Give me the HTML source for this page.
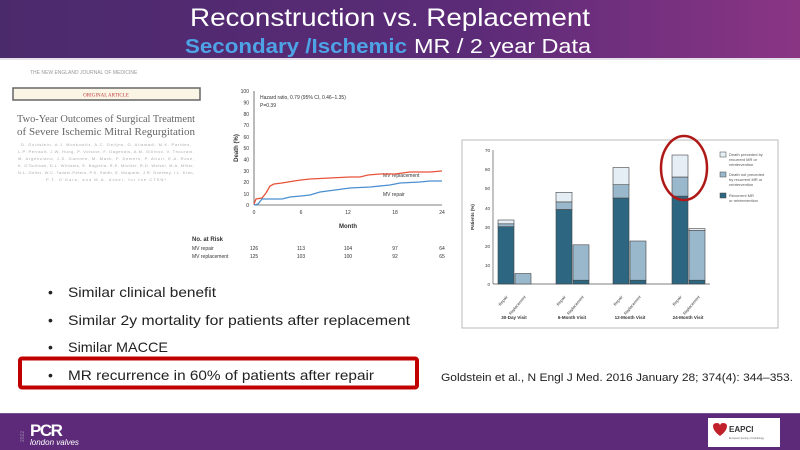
<!DOCTYPE html>
<html><head><meta charset="utf-8"><style>
html,body{margin:0;padding:0;background:#fff}
svg{display:block}
</style></head><body>
<svg width="800" height="450" viewBox="0 0 800 450" xmlns="http://www.w3.org/2000/svg" font-family="Liberation Sans, sans-serif">
<defs>
<linearGradient id="hg" x1="0" x2="1" y1="0" y2="0">
<stop offset="0" stop-color="#4b2a6c"/><stop offset="0.6" stop-color="#5c2b78"/><stop offset="1" stop-color="#8a3584"/>
</linearGradient>
</defs>
<rect x="0" y="0" width="800" height="58" fill="url(#hg)"/>
<rect x="0" y="58" width="800" height="2" fill="#e6e0ea"/>
<text x="390" y="26" text-anchor="middle" font-size="25" fill="#fff" textLength="400" lengthAdjust="spacingAndGlyphs">Reconstruction  vs. Replacement</text>
<text x="185" y="53" font-size="20" font-weight="bold" fill="#4da3e6" textLength="222" lengthAdjust="spacingAndGlyphs">Secondary  /Ischemic</text>
<text x="414" y="53" font-size="20" fill="#fff" textLength="177" lengthAdjust="spacingAndGlyphs">MR / 2 year Data</text>

<!-- article -->
<text x="30" y="74" font-size="5" fill="#999">THE NEW ENGLAND JOURNAL OF MEDICINE</text>
<rect x="13" y="88" width="187" height="12" fill="#fbf5e6" stroke="#666" stroke-width="1.5"/>
<text x="106" y="96.5" text-anchor="middle" font-size="5" fill="#c04040" font-family="Liberation Serif, serif">ORIGINAL ARTICLE</text>
<text x="106" y="122" text-anchor="middle" font-size="10.5" fill="#666" font-family="Liberation Serif, serif" textLength="178" lengthAdjust="spacingAndGlyphs">Two-Year Outcomes of Surgical Treatment</text>
<text x="106" y="135" text-anchor="middle" font-size="10.5" fill="#666" font-family="Liberation Serif, serif" textLength="178" lengthAdjust="spacingAndGlyphs">of Severe Ischemic Mitral Regurgitation</text>
<g font-size="4" fill="#aaa" text-anchor="middle">
<text x="106" y="146" textLength="170">D. Goldstein, A.J. Moskowitz, A.C. Gelijns, G. Ailawadi, M.K. Parides,</text>
<text x="106" y="153" textLength="176">L.P. Perrault, J.W. Hung, P. Voisine, F. Dagenais, A.M. Gillinov, V. Thourani,</text>
<text x="106" y="160" textLength="176">M. Argenziano, J.S. Gammie, M. Mack, P. Demers, P. Atluri, E.A. Rose,</text>
<text x="106" y="167" textLength="176">K. O'Sullivan, D.L. Williams, E. Bagiella, R.E. Michler, R.D. Weisel, M.A. Miller,</text>
<text x="106" y="174" textLength="176">N.L. Geller, W.C. Taddei-Peters, P.K. Smith, E. Moquete, J.R. Overbey, I.L. Kron,</text>
<text x="106" y="181" textLength="120">P.T. O'Gara, and M.A. Acker, for the CTSN*</text>
</g>

<!-- KM chart -->
<g font-size="5" fill="#333">
<line x1="254" y1="91" x2="254" y2="205" stroke="#555" stroke-width="0.8"/>
<line x1="254" y1="205" x2="442" y2="205" stroke="#555" stroke-width="0.8"/>
<g text-anchor="end">
<text x="249" y="93">100</text><text x="249" y="104.5">90</text><text x="249" y="116">80</text><text x="249" y="127">70</text><text x="249" y="139">60</text><text x="249" y="150">50</text><text x="249" y="161.5">40</text><text x="249" y="173">30</text><text x="249" y="184">20</text><text x="249" y="196">10</text><text x="249" y="207">0</text>
</g>
<g text-anchor="middle"><text x="254" y="214">0</text><text x="301" y="214">6</text><text x="348" y="214">12</text><text x="395" y="214">18</text><text x="442" y="214">24</text>
<text x="348" y="228" font-weight="bold" font-size="6">Month</text></g>
<text transform="translate(238,148) rotate(-90)" text-anchor="middle" font-weight="bold" font-size="6">Death (%)</text>
<text x="260" y="99">Hazard ratio, 0.79 (95% CI, 0.46–1.35)</text>
<text x="260" y="107">P=0.39</text>
<text x="383" y="177">MV replacement</text>
<text x="383" y="196">MV repair</text>
<polyline fill="none" stroke="#e8533a" stroke-width="1.3" points="254,204 256,199 262,198 266,193 270,186 274,184 282,183 294,181 301,180 310,179 330,178 350,177 360,177 368,175 380,174 395,174 410,172 430,172 442,171"/>
<polyline fill="none" stroke="#4a8fd0" stroke-width="1.3" points="254,205 258,204 262,199 272,199 282,199 290,197 301,196 310,195 320,192 335,190 350,188 370,187 390,185 400,183 420,182 430,181 442,181"/>
<text x="192" y="241" font-weight="bold" font-size="6">No. at Risk</text>
<text x="192" y="250">MV repair</text><text x="192" y="258">MV replacement</text>
<g text-anchor="middle"><text x="254" y="250">126</text><text x="301" y="250">113</text><text x="348" y="250">104</text><text x="395" y="250">97</text><text x="442" y="250">64</text>
<text x="254" y="258">125</text><text x="301" y="258">103</text><text x="348" y="258">100</text><text x="395" y="258">92</text><text x="442" y="258">65</text></g>
</g>

<!-- bullets -->
<g font-size="14" fill="#222">
<text x="48" y="297">•</text><text x="68" y="297" textLength="148" lengthAdjust="spacingAndGlyphs">Similar clinical benefit</text>
<text x="48" y="325">•</text><text x="68" y="325" textLength="342" lengthAdjust="spacingAndGlyphs">Similar 2y mortality for patients after replacement</text>
<text x="48" y="352">•</text><text x="68" y="352" textLength="100" lengthAdjust="spacingAndGlyphs">Similar MACCE</text>
<text x="48" y="380">•</text><text x="68" y="380" textLength="306" lengthAdjust="spacingAndGlyphs">MR recurrence in 60% of patients after repair</text>
</g>
<rect x="20" y="358.5" width="397" height="29" fill="none" stroke="#c00000" stroke-width="4" rx="2"/>
<text x="441" y="381" font-size="11" fill="#222" textLength="352" lengthAdjust="spacingAndGlyphs">Goldstein et al., N Engl J Med. 2016 January 28; 374(4): 344–353.</text>

<!-- bar chart -->
<rect x="462" y="140" width="316" height="188" fill="#fff" stroke="#bbb" stroke-width="1"/>
<g font-size="4.5" fill="#333">
<line x1="493" y1="150" x2="493" y2="284" stroke="#555" stroke-width="0.7"/>
<line x1="493" y1="284" x2="710" y2="284" stroke="#555" stroke-width="0.7"/>
<g text-anchor="end"><text x="490" y="286">0</text><text x="490" y="267">10</text><text x="490" y="248">20</text><text x="490" y="229">30</text><text x="490" y="210">40</text><text x="490" y="190">50</text><text x="490" y="171">60</text><text x="490" y="152">70</text></g>
<text transform="translate(474,217) rotate(-90)" text-anchor="middle" font-weight="bold">Patients (%)</text>
<g stroke="#444" stroke-width="0.6">
<!-- 30 day -->
<rect x="498" y="226.7" width="16" height="57.3" fill="#2c6680"/>
<rect x="498" y="223.8" width="16" height="2.9" fill="#9ab8cc"/>
<rect x="498" y="220" width="16" height="3.8" fill="#e4eef4"/>
<rect x="515" y="273.5" width="16" height="10.5" fill="#9ab8cc"/>
<!-- 6 month -->
<rect x="556" y="209.5" width="16" height="74.5" fill="#2c6680"/>
<rect x="556" y="201.9" width="16" height="7.6" fill="#9ab8cc"/>
<rect x="556" y="192.3" width="16" height="9.6" fill="#e4eef4"/>
<rect x="573" y="280.2" width="16" height="3.8" fill="#2c6680"/>
<rect x="573" y="244.8" width="16" height="35.4" fill="#9ab8cc"/>
<!-- 12 month -->
<rect x="613" y="198" width="16" height="86" fill="#2c6680"/>
<rect x="613" y="184.7" width="16" height="13.3" fill="#9ab8cc"/>
<rect x="613" y="167.5" width="16" height="17.2" fill="#e4eef4"/>
<rect x="630" y="280.2" width="16" height="3.8" fill="#2c6680"/>
<rect x="630" y="241" width="16" height="39.2" fill="#9ab8cc"/>
<!-- 24 month -->
<rect x="672" y="196.1" width="16" height="87.9" fill="#2c6680"/>
<rect x="672" y="177" width="16" height="19.1" fill="#9ab8cc"/>
<rect x="672" y="155" width="16" height="22" fill="#e4eef4"/>
<rect x="689" y="280.2" width="16" height="3.8" fill="#2c6680"/>
<rect x="689" y="230.5" width="16" height="49.7" fill="#9ab8cc"/>
<rect x="689" y="228.6" width="16" height="1.9" fill="#e4eef4"/>
</g>
<g font-size="4">
<text transform="translate(508,297) rotate(-50)" text-anchor="end">Repair</text>
<text transform="translate(526,297) rotate(-50)" text-anchor="end">Replacement</text>
<text transform="translate(566,297) rotate(-50)" text-anchor="end">Repair</text>
<text transform="translate(584,297) rotate(-50)" text-anchor="end">Replacement</text>
<text transform="translate(623,297) rotate(-50)" text-anchor="end">Repair</text>
<text transform="translate(641,297) rotate(-50)" text-anchor="end">Replacement</text>
<text transform="translate(682,297) rotate(-50)" text-anchor="end">Repair</text>
<text transform="translate(700,297) rotate(-50)" text-anchor="end">Replacement</text>
</g>
<g text-anchor="middle" font-weight="bold" font-size="4.5">
<text x="514" y="319">30-Day Visit</text><text x="572" y="319">6-Month Visit</text><text x="630" y="319">12-Month Visit</text><text x="688" y="319">24-Month Visit</text>
</g>
<g font-size="4" fill="#555">
<rect x="720" y="152" width="6" height="5" fill="#e4eef4" stroke="#444" stroke-width="0.5"/>
<text x="729" y="156">Death preceded by</text><text x="729" y="161">recurrent MR or</text><text x="729" y="166">reintervention</text>
<rect x="720" y="172" width="6" height="5" fill="#9ab8cc" stroke="#444" stroke-width="0.5"/>
<text x="729" y="176">Death not preceded</text><text x="729" y="181">by recurrent MR or</text><text x="729" y="186">reintervention</text>
<rect x="720" y="193" width="6" height="5" fill="#2c6680" stroke="#444" stroke-width="0.5"/>
<text x="729" y="197">Recurrent MR</text><text x="729" y="202">or reintervention</text>
</g>
</g>
<ellipse cx="684" cy="168" rx="23" ry="32" fill="none" stroke="#b01818" stroke-width="2.5"/>

<!-- footer -->
<rect x="0" y="413" width="800" height="37" fill="#5c2a78"/>
<rect x="0" y="413" width="800" height="1" fill="#7a5090"/>
<g fill="#8a6aa0" font-size="5" font-weight="bold"><text transform="translate(24,442) rotate(-90)">2022</text></g>
<text x="30" y="436" font-size="17" font-weight="bold" fill="#fff" letter-spacing="-1.5">PCR</text>
<text x="30" y="445" font-size="8" font-style="italic" fill="#fff">london valves</text>
<rect x="708" y="418" width="72" height="29" fill="#fff"/>
<path d="M713 426 q0 -3 4 -3 q3 0 3 3 q0 -3 3 -3 q4 0 4 3 q0 5 -7 10 q-7 -5 -7 -10z" fill="#c0202a"/>
<text x="729" y="432" font-size="8" font-weight="bold" fill="#333">EAPCI</text>
<text x="729" y="439" font-size="2.5" fill="#666">European Society of Cardiology</text>
</svg>
</body></html>
